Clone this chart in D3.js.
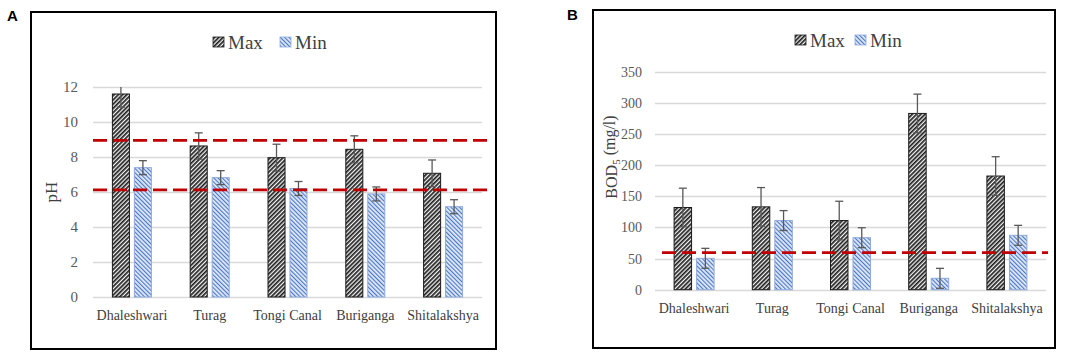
<!DOCTYPE html>
<html>
<head>
<meta charset="utf-8">
<script src="https://cdn.jsdelivr.net/npm/d3@7"></script>
<style>
  body { margin: 0; background: #fff; }
  svg { display: block; }
  svg text { font-family: "Liberation Serif", "Times New Roman", serif; }
  svg text.letter { font-family: "Liberation Sans", Arial, sans-serif; }
</style>
</head>
<body>
<svg id="chart" width="1084" height="357"></svg>
<script>
// River water quality, two panels: pH (A) and BOD5 (B)
const categories = ['Dhaleshwari', 'Turag', 'Tongi Canal', 'Buriganga', 'Shitalakshya'];
const series = ['Max', 'Min'];

const phMax = [11.6, 8.63, 7.96, 8.44, 7.07];
const phMin = [7.39, 6.82, 6.2, 5.89, 5.16];
const phMaxErr = [0.75, 0.75, 0.77, 0.77, 0.76];
const phMinErr = [0.4, 0.4, 0.4, 0.4, 0.4];
const phLimits = [8.95, 6.12];
const phTicks = [0, 2, 4, 6, 8, 10, 12];

const bodMax = [132, 133, 111, 283, 182.5];
const bodMin = [50.4, 111, 83.5, 18.3, 87.3];
const bodMaxErr = [31, 31, 31, 31, 31];
const bodMinErr = [16, 16, 16, 16, 16];
const bodLimits = [59.5];
const bodTicks = [0, 50, 100, 150, 200, 250, 300, 350];

const serif = '"Liberation Serif", "Times New Roman", serif';
const svg = d3.select('#chart');

// hatch patterns
const defs = svg.append('defs');
const maxPat = defs.append('pattern')
    .attr('id', 'hatchMax')
    .attr('patternUnits', 'userSpaceOnUse')
    .attr('width', 3).attr('height', 3)
    .attr('patternTransform', 'rotate(45)');
maxPat.append('rect').attr('width', 3).attr('height', 3).attr('fill', '#f4f4f4');
maxPat.append('rect').attr('x', 0).attr('y', 0).attr('width', 1.7).attr('height', 3)
    .attr('fill', '#1f1f1f');

const minPat = defs.append('pattern')
    .attr('id', 'hatchMin')
    .attr('patternUnits', 'userSpaceOnUse')
    .attr('width', 3).attr('height', 3)
    .attr('patternTransform', 'rotate(-45)');
minPat.append('rect').attr('width', 3).attr('height', 3).attr('fill', '#e3eaf6');
minPat.append('rect').attr('x', 0).attr('y', 0).attr('width', 1.15).attr('height', 3)
    .attr('fill', '#4a78c8');

const fills = {Max: 'url(#hatchMax)', Min: 'url(#hatchMin)'};
const outlines = {Max: '#1a1a1a', Min: '#8eaadb'};

function drawPanel(opt) {
    const g = svg.append('g');

    // frame + letter
    g.append('rect')
        .attr('x', opt.frame[0]).attr('y', opt.frame[1])
        .attr('width', opt.frame[2]).attr('height', opt.frame[3])
        .attr('fill', 'none').attr('stroke', '#000').attr('stroke-width', 2);
    g.append('text')
        .attr('class', 'letter')
        .attr('x', opt.letter[0]).attr('y', opt.letter[1])
        .style('font-weight', 'bold').style('font-size', '15px')
        .text(opt.name);

    const x = d3.scaleBand().domain(categories).range(opt.xRange);
    const y = d3.scaleLinear().domain([0, d3.max(opt.ticks)]).range(opt.yRange);
    const half = opt.groupWidth / 2;
    const xs = d3.scaleBand().domain(series)
        .range([x.bandwidth() / 2 - half, x.bandwidth() / 2 + half])
        .paddingInner(0.18);

    // gridlines
    g.append('g').selectAll('line').data(opt.ticks).join('line')
        .attr('x1', opt.xRange[0]).attr('x2', opt.xRange[1])
        .attr('y1', d => Math.round(y(d)) + 0.5).attr('y2', d => Math.round(y(d)) + 0.5)
        .attr('stroke', '#d9d9d9').attr('stroke-width', 1.3);

    // y axis tick labels
    const yAxis = d3.axisLeft(y).tickValues(opt.ticks).tickSize(0).tickPadding(0);
    const ya = g.append('g')
        .attr('transform', `translate(${opt.tickX},0)`)
        .call(yAxis)
        .attr('font-family', serif)
        .attr('font-size', opt.tickSize);
    ya.select('.domain').remove();
    ya.selectAll('text').attr('fill', '#595959');

    // x axis labels
    const xAxis = d3.axisBottom(x).tickSize(0).tickPadding(0);
    const xa = g.append('g')
        .attr('transform', `translate(0,${opt.catY})`)
        .call(xAxis)
        .attr('font-family', serif)
        .attr('font-size', 14);
    xa.select('.domain').remove();
    xa.selectAll('text').attr('dy', 0).attr('fill', '#404040');

    // bars
    const rows = categories.map((c, i) => ({
        cat: c,
        vals: [
            {s: 'Max', v: opt.max[i], e: opt.maxErr[i]},
            {s: 'Min', v: opt.min[i], e: opt.minErr[i]}
        ]
    }));
    const groups = g.append('g').selectAll('g').data(rows).join('g')
        .attr('transform', d => `translate(${x(d.cat)},0)`);
    groups.selectAll('rect').data(d => d.vals).join('rect')
        .attr('x', d => xs(d.s) + 0.5)
        .attr('width', xs.bandwidth() - 1)
        .attr('y', d => y(d.v))
        .attr('height', d => y(0) - y(d.v))
        .attr('fill', d => fills[d.s])
        .attr('stroke', d => outlines[d.s])
        .attr('stroke-width', 1);

    // limit lines
    g.append('g').selectAll('line').data(opt.limits).join('line')
        .attr('x1', opt.xRange[0] + opt.limitPad[0]).attr('x2', opt.xRange[1] + opt.limitPad[1])
        .attr('y1', d => y(d)).attr('y2', d => y(d))
        .attr('stroke', '#c00000').attr('stroke-width', 2.8)
        .attr('stroke-dasharray', '14,6');

    // error bars
    const top = d3.max(opt.ticks);
    const eb = groups.selectAll('g.err').data(d => d.vals).join('g')
        .attr('class', 'err')
        .attr('transform', d => `translate(${xs(d.s) + xs.bandwidth() / 2},0)`)
        .attr('stroke', '#595959').attr('stroke-width', 1.3);
    eb.append('line')
        .attr('y1', d => y(Math.min(d.v + d.e, top))).attr('y2', d => y(d.v - d.e));
    eb.append('line')
        .attr('x1', -4).attr('x2', 4)
        .attr('y1', d => y(d.v - d.e)).attr('y2', d => y(d.v - d.e));
    eb.filter(d => d.v + d.e <= top).append('line')
        .attr('x1', -4).attr('x2', 4)
        .attr('y1', d => y(d.v + d.e)).attr('y2', d => y(d.v + d.e));

    // legend
    const lg = g.append('g').attr('transform', `translate(${opt.legend[0]},${opt.legend[1]})`);
    series.forEach((s, i) => {
        const item = lg.append('g').attr('transform', `translate(${i * opt.legendStep},0)`);
        item.append('rect')
            .attr('x', 0).attr('y', -5).attr('width', 11).attr('height', 10)
            .attr('fill', fills[s]).attr('stroke', outlines[s]).attr('stroke-width', 0.8);
        item.append('text')
            .attr('x', 15).attr('y', 6.5)
            .style('font-size', '19px')
            .attr('fill', '#404040')
            .text(s);
    });

    // y title
    const yt = g.append('text')
        .attr('transform', `translate(${opt.yTitle[0]},${opt.yTitle[1]}) rotate(-90)`)
        .attr('text-anchor', 'middle')
        .attr('dy', '0.35em')
        .style('font-size', opt.yTitleSize + 'px')
        .attr('fill', '#404040');
    opt.yTitleParts.forEach(p => {
        const t = yt.append('tspan').text(p.t);
        if (p.sub) t.attr('dy', '0.3em').style('font-size', '11px');
        if (p.after) t.attr('dy', '-0.3em');
    });
}

drawPanel({
    name: 'A',
    frame: [31, 12, 465, 337],
    letter: [7, 21],
    xRange: [93, 482],
    yRange: [297, 87],
    ticks: phTicks,
    tickX: 78,
    tickSize: 15,
    catY: 320,
    groupWidth: 40,
    max: phMax, min: phMin, maxErr: phMaxErr, minErr: phMinErr,
    limits: phLimits,
    limitPad: [0, 6],
    legend: [213, 42],
    legendStep: 67,
    yTitle: [51, 192],
    yTitleSize: 17,
    yTitleParts: [{t: 'pH'}]
});

drawPanel({
    name: 'B',
    frame: [593, 10, 462, 338],
    letter: [567, 20],
    xRange: [655, 1046],
    yRange: [289.7, 71.7],
    ticks: bodTicks,
    tickX: 642,
    tickSize: 14,
    catY: 313,
    groupWidth: 41,
    max: bodMax, min: bodMin, maxErr: bodMaxErr, minErr: bodMinErr,
    limits: bodLimits,
    limitPad: [7, 2],
    legend: [795, 40],
    legendStep: 60,
    yTitle: [611, 157],
    yTitleSize: 16,
    yTitleParts: [{t: 'BOD'}, {t: '5', sub: true}, {t: '\u00a0(mg/l)', after: true}]
});
</script>
</body>
</html>
